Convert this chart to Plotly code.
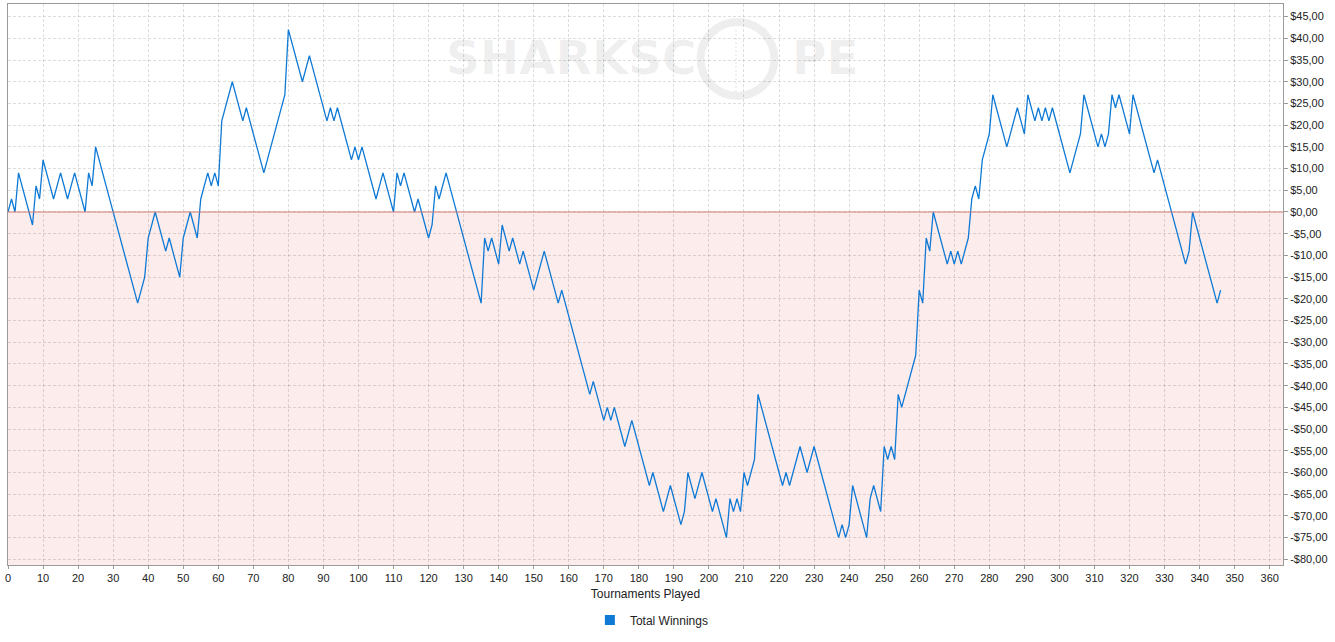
import plotly.graph_objects as go

# Turning points of the cumulative winnings line (tournament number, $)
games = [0, 1, 2, 3, 7, 8, 9, 10, 13, 15, 17, 19, 22, 23, 24, 25, 37, 39, 40, 42,
         45, 46, 49, 50, 52, 54, 55, 57, 58, 59, 60, 61, 64, 67, 68, 73, 79, 80, 84, 86,
         91, 92, 93, 94, 98, 99, 100, 101, 105, 107, 110, 111, 112, 113, 116, 117, 120, 121, 122, 123,
         125, 135, 136, 137, 138, 140, 141, 143, 144, 146, 147, 150, 153, 157, 158, 166, 167, 170, 171, 172,
         173, 176, 178, 183, 184, 187, 189, 192, 193, 194, 196, 198, 201, 202, 205, 206, 207, 208, 209, 210,
         211, 213, 214, 221, 222, 223, 226, 228, 230, 237, 238, 239, 240, 241, 245, 246, 247, 249, 250, 251,
         252, 253, 254, 255, 259, 260, 261, 262, 263, 264, 268, 269, 270, 271, 272, 274, 275, 276, 277, 278,
         280, 281, 285, 288, 290, 291, 293, 294, 295, 296, 297, 298, 303, 306, 307, 311, 312, 313, 314, 315,
         316, 317, 320, 321, 327, 328, 336, 337, 338, 345, 346]
winnings = [0, 3, 0, 9, -3, 6, 3, 12, 3, 9, 3, 9, 0, 9, 6, 15, -21, -15, -6, 0,
            -9, -6, -15, -6, 0, -6, 3, 9, 6, 9, 6, 21, 30, 21, 24, 9, 27, 42, 30, 36,
            21, 24, 21, 24, 12, 15, 12, 15, 3, 9, 0, 9, 6, 9, 0, 3, -6, -3, 6, 3,
            9, -21, -6, -9, -6, -12, -3, -9, -6, -12, -9, -18, -9, -21, -18, -42, -39, -48, -45, -48,
            -45, -54, -48, -63, -60, -69, -63, -72, -69, -60, -66, -60, -69, -66, -75, -66, -69, -66, -69, -60,
            -63, -57, -42, -63, -60, -63, -54, -60, -54, -75, -72, -75, -72, -63, -75, -66, -63, -69, -54, -57,
            -54, -57, -42, -45, -33, -18, -21, -6, -9, 0, -12, -9, -12, -9, -12, -6, 3, 6, 3, 12,
            18, 27, 15, 24, 18, 27, 21, 24, 21, 24, 21, 24, 9, 18, 27, 15, 18, 15, 18, 27,
            24, 27, 18, 27, 9, 12, -12, -9, 0, -21, -18]

x_ticks = list(range(0, 361, 10))
y_ticks = list(range(45, -81, -5))
y_tick_labels = [("-$" if v < 0 else "$") + f"{abs(v)},00" for v in y_ticks]

X_RANGE = [0, 363.8]
Y_RANGE = [-81.3, 47.9]

LINE_BLUE = "#0f7ad5"
FONT = "Liberation Sans, Arial, sans-serif"
WM_FONT = "DejaVu Sans, sans-serif"
WM_COLOR = "rgba(0,0,0,0.065)"

fig = go.Figure()

fig.add_trace(go.Scatter(
    x=games, y=winnings, mode="lines",
    line=dict(color=LINE_BLUE, width=1.3),
    showlegend=False, hoverinfo="x+y",
))
# legend entry (square swatch)
fig.add_trace(go.Scatter(
    x=[None], y=[None], mode="markers",
    marker=dict(symbol="square", size=10, color=LINE_BLUE),
    name="Total Winnings",
))

shapes = [
    # negative region shading
    dict(type="rect", xref="paper", yref="y", x0=0, x1=1, y0=Y_RANGE[0], y1=0,
         fillcolor="#fdecec", line=dict(width=0), layer="below"),
    # zero line
    dict(type="line", xref="paper", yref="y", x0=0, x1=1, y0=0, y1=0,
         line=dict(color="#d27a72", width=1.2), layer="above"),
    # watermark ring
    dict(type="circle", xref="paper", yref="paper",
         x0=(700.5 - 8) / 1275, x1=(774.5 - 8) / 1275,
         y0=(565 - 96) / 561, y1=(565 - 22) / 561,
         line=dict(color=WM_COLOR, width=8), layer="below"),
    dict(type="line", xref="paper", yref="paper",
         x0=(736 - 8) / 1275, x1=(736 - 8) / 1275,
         y0=(565 - 92) / 561, y1=(565 - 28) / 561,
         line=dict(color="rgba(0,0,0,0.06)", width=2, dash="2px,2px"), layer="below"),
]

annotations = [
    dict(text="<b>SHARKSC</b>", xref="paper", yref="paper",
         x=(444 - 8) / 1275, y=(565 - 57) / 561, xanchor="left", yanchor="middle",
         showarrow=False, font=dict(family=WM_FONT, size=47, color=WM_COLOR)),
    dict(text="<b>PE</b>", xref="paper", yref="paper",
         x=(790 - 8) / 1275, y=(565 - 57) / 561, xanchor="left", yanchor="middle",
         showarrow=False, font=dict(family=WM_FONT, size=47, color=WM_COLOR)),
]

fig.update_layout(
    width=1335, height=642,
    margin=dict(l=8, r=52, t=4, b=77),
    paper_bgcolor="white", plot_bgcolor="white",
    font=dict(family=FONT, size=11, color="#222222"),
    shapes=shapes, annotations=annotations,
    showlegend=True,
    legend=dict(orientation="h", x=0.505, xanchor="center", y=-0.098, yanchor="middle",
                font=dict(family=FONT, size=12, color="#222222"), bgcolor="rgba(0,0,0,0)"),
    hovermode="closest",
)

fig.update_xaxes(
    range=X_RANGE, tickvals=x_ticks, ticktext=[str(v) for v in x_ticks],
    showgrid=True, gridcolor="rgba(0,0,0,0.13)", griddash="3px,2px", gridwidth=1,
    zeroline=False, showline=True, linecolor="#9a9a9a", linewidth=1, mirror=True,
    ticks="outside", ticklen=3, tickcolor="#9a9a9a",
    title=dict(text="Tournaments Played", font=dict(family=FONT, size=12, color="#222222"), standoff=6),
    tickfont=dict(family=FONT, size=11, color="#222222"),
)
fig.update_yaxes(
    range=Y_RANGE, side="right", tickvals=y_ticks, ticktext=y_tick_labels,
    showgrid=True, gridcolor="rgba(0,0,0,0.13)", griddash="3px,2px", gridwidth=1,
    zeroline=False, showline=True, linecolor="#9a9a9a", linewidth=1, mirror=True,
    ticks="outside", ticklen=4, tickcolor="#9a9a9a",
    tickfont=dict(family=FONT, size=11, color="#222222"),
)

fig.write_html("out.html", config={"displayModeBar": False},
               post_script="document.body.style.margin='0px';")
